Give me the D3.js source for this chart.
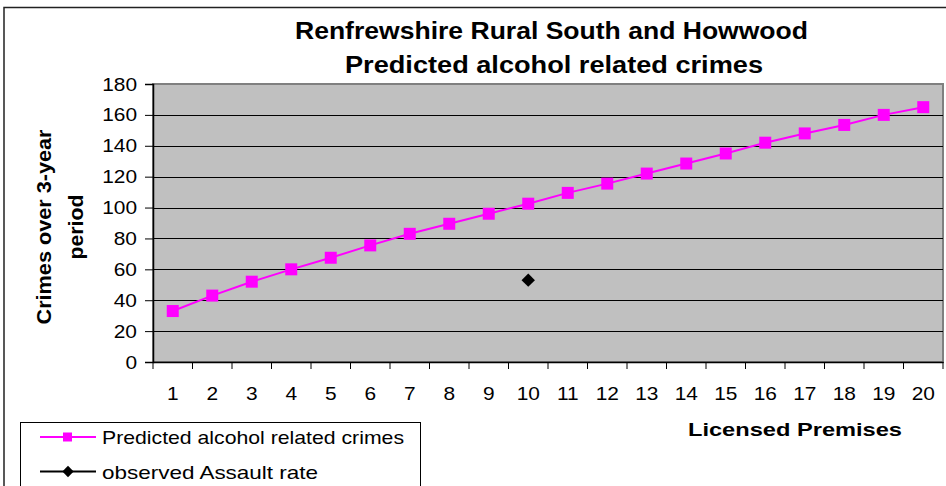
<!DOCTYPE html>
<html><head><meta charset="utf-8">
<script src="https://cdn.jsdelivr.net/npm/d3@7"></script>
<style>
html,body{margin:0;padding:0;background:#fff;}
text{font-family:"Liberation Sans",Arial,sans-serif;fill:#000;}
</style></head>
<body>
<svg id="chart" width="946" height="486"></svg>
<script>
const categories = [1,2,3,4,5,6,7,8,9,10,11,12,13,14,15,16,17,18,19,20];
const predicted = [33,43,52,60,67.5,75.5,83,89.5,96,102.5,109.5,115.5,122,128.5,135,142,148,153.5,160,165];
const observed = [null,null,null,null,null,null,null,null,null,53,null,null,null,null,null,null,null,null,null,null];
const yTicks = [0,20,40,60,80,100,120,140,160,180];
const titleLines = ["Renfrewshire Rural South and Howwood","Predicted alcohol related crimes"];
const yTitleLines = ["Crimes over 3-year","period"];
const xTitle = "Licensed Premises";
const seriesNames = ["Predicted alcohol related crimes","observed Assault rate"];

const svg = d3.select("#chart");
const STRETCH = 1.1;
function stretch(sel, factor){
  sel.each(function(){
    const w = this.getComputedTextLength();
    d3.select(this).attr("textLength", w*(factor||STRETCH)).attr("lengthAdjust","spacingAndGlyphs");
  });
  return sel;
}
function fit(sel, width){
  sel.attr("textLength", width).attr("lengthAdjust","spacingAndGlyphs");
  return sel;
}

// outer chart border
svg.append("rect").attr("x",4).attr("y",7.5).attr("width",1000).attr("height",600)
  .attr("fill","#fff").attr("stroke","#222").attr("stroke-width",1.5);

const L=153, R=943, T=84, B=362;
const x = d3.scaleBand().domain(categories).range([L,R]).padding(0);
const y = d3.scaleLinear().domain([0,180]).range([B,T]);

// plot area
svg.append("rect").attr("x",L).attr("y",T).attr("width",R-L).attr("height",B-T)
  .attr("fill","#C0C0C0").attr("stroke","#808080").attr("stroke-width",2);

// gridlines
svg.append("g").selectAll("line").data(yTicks.filter(d=>d>0 && d<180)).join("line")
  .attr("x1",L).attr("x2",R).attr("y1",d=>Math.round(y(d))+0.5).attr("y2",d=>Math.round(y(d))+0.5)
  .attr("stroke","#000").attr("stroke-width",1);

// y axis
const yAxis = svg.append("g").attr("transform",`translate(${L},0)`)
  .call(d3.axisLeft(y).tickValues(yTicks).tickSize(8).tickPadding(8));
yAxis.select(".domain").attr("stroke","#000").attr("stroke-width",1.5);
yAxis.selectAll(".tick line").attr("stroke","#000");
yAxis.selectAll(".tick text").attr("font-size",19).attr("fill","#000")
  .attr("font-family","'Liberation Sans',Arial,sans-serif");
stretch(yAxis.selectAll(".tick text"));

// x axis
const xAxis = svg.append("g").attr("transform",`translate(0,${B})`)
  .call(d3.axisBottom(x).tickSize(0).tickPadding(38));
xAxis.select(".domain").attr("stroke","#000").attr("stroke-width",1.5);
xAxis.selectAll(".tick text").attr("font-size",19).attr("fill","#000")
  .attr("font-family","'Liberation Sans',Arial,sans-serif").attr("dy","0");
stretch(xAxis.selectAll(".tick text"));
// boundary ticks
const bounds = categories.map(c=>x(c)).concat([R]);
svg.append("g").selectAll("line").data(bounds).join("line")
  .attr("x1",d=>d).attr("x2",d=>d).attr("y1",B).attr("y2",B+7)
  .attr("stroke","#000").attr("stroke-width",1);

// predicted line
const cx = d => x(d)+x.bandwidth()/2;
const line = d3.line().x((d,i)=>cx(categories[i])).y(d=>y(d));
svg.append("path").datum(predicted).attr("d",line)
  .attr("fill","none").attr("stroke","#FF00FF").attr("stroke-width",2);
const sq = 12;
svg.append("g").selectAll("rect").data(predicted).join("rect")
  .attr("x",(d,i)=>cx(categories[i])-sq/2).attr("y",d=>y(d)-sq/2)
  .attr("width",sq).attr("height",sq).attr("fill","#FF00FF");

// observed points
svg.append("g").selectAll("path").data(observed.map((v,i)=>({v,c:categories[i]})).filter(d=>d.v!=null)).join("path")
  .attr("d",d3.symbol().type(d3.symbolSquare).size(90)())
  .attr("transform",d=>`translate(${cx(d.c)},${y(d.v)}) rotate(45)`)
  .attr("fill","#000");

// title
const titleY = [39,73], titleX=[551.5,554], titleW=[513,418];
titleLines.forEach((t,i)=>{
  fit(svg.append("text").attr("x",titleX[i]).attr("y",titleY[i]).attr("text-anchor","middle")
    .attr("font-size",23).attr("font-weight","bold").text(t), titleW[i]);
});

// y title
const yTitleX=[51,83], yTitleW=[195,65];
yTitleLines.forEach((t,i)=>{
  fit(svg.append("text").attr("transform",`translate(${yTitleX[i]},227) rotate(-90)`)
    .attr("text-anchor","middle").attr("font-size",20).attr("font-weight","bold").text(t), yTitleW[i]);
});

// x title
fit(svg.append("text").attr("x",795).attr("y",436).attr("text-anchor","middle")
  .attr("font-size",19).attr("font-weight","bold").text(xTitle), 214);

// legend
svg.append("rect").attr("x",20.5).attr("y",422.5).attr("width",400).attr("height",100)
  .attr("fill","#fff").attr("stroke","#000").attr("stroke-width",1);
const legY=[437,471.5], legW=[302,216];
const lg = svg.append("g");
lg.append("line").attr("x1",40).attr("x2",96).attr("y1",legY[0]).attr("y2",legY[0]).attr("stroke","#FF00FF").attr("stroke-width",2);
lg.append("rect").attr("x",63).attr("y",legY[0]-4.5).attr("width",9).attr("height",9).attr("fill","#FF00FF");
lg.append("line").attr("x1",40).attr("x2",96).attr("y1",legY[1]).attr("y2",legY[1]).attr("stroke","#000").attr("stroke-width",2);
lg.append("path").attr("d",d3.symbol().type(d3.symbolSquare).size(64)())
  .attr("transform",`translate(68,${legY[1]}) rotate(45)`).attr("fill","#000");
seriesNames.forEach((t,i)=>{
  fit(lg.append("text").attr("x",102).attr("y",legY[i]+7).attr("font-size",19).text(t), legW[i]);
});
</script>
</body></html>
